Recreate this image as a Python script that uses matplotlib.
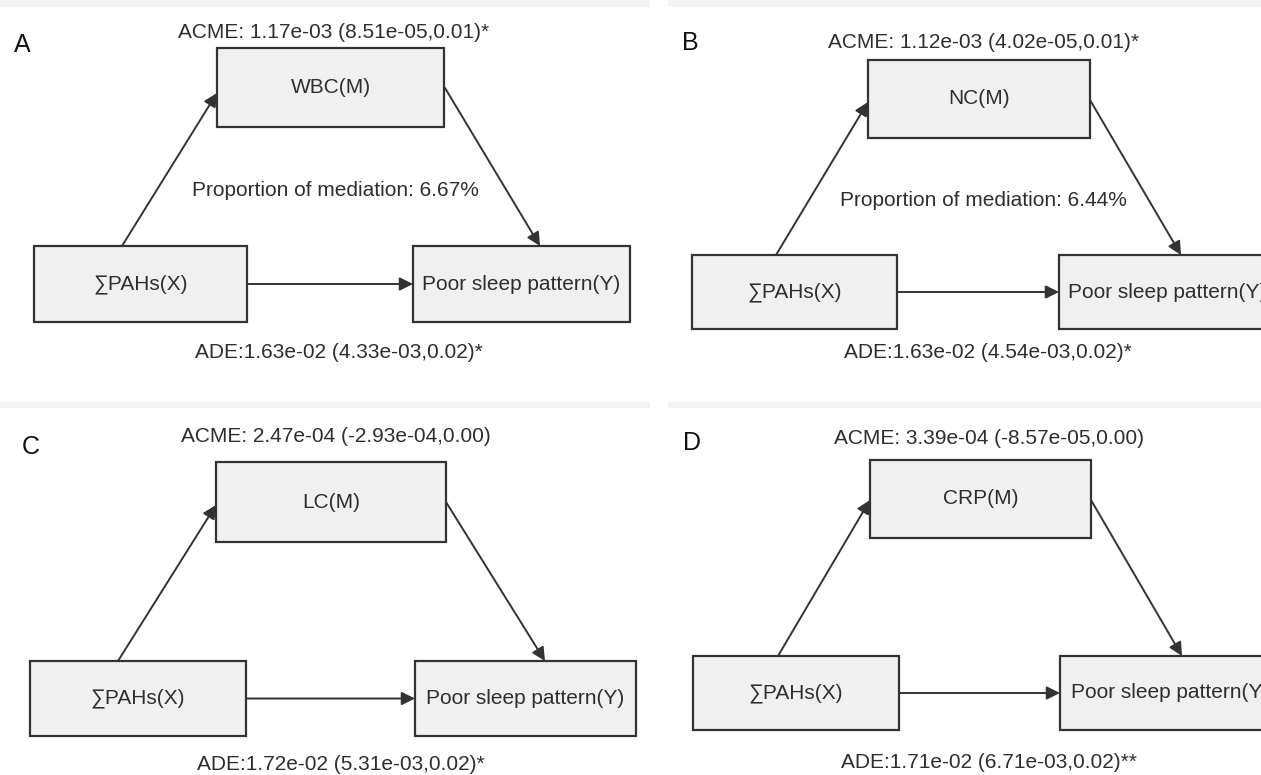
import matplotlib
matplotlib.use("Agg")
import matplotlib.pyplot as plt
from matplotlib.patches import Rectangle, FancyArrowPatch

# ---- data ----
panel_labels = ["A", "B", "C", "D"]
mediators = ["WBC(M)", "NC(M)", "LC(M)", "CRP(M)"]
exposure = "\u2211PAHs(X)"
outcome = "Poor sleep pattern(Y)"
acme_texts = [
    "ACME: 1.17e-03 (8.51e-05,0.01)*",
    "ACME: 1.12e-03 (4.02e-05,0.01)*",
    "ACME: 2.47e-04 (-2.93e-04,0.00)",
    "ACME: 3.39e-04 (-8.57e-05,0.00)",
]
ade_texts = [
    "ADE:1.63e-02 (4.33e-03,0.02)*",
    "ADE:1.63e-02 (4.54e-03,0.02)*",
    "ADE:1.72e-02 (5.31e-03,0.02)*",
    "ADE:1.71e-02 (6.71e-03,0.02)**",
]
proportions = ["Proportion of mediation: 6.67%", "Proportion of mediation: 6.44%", None, None]

# ---- layout (pixel coordinates, y downward) ----
layouts = [
    dict(label=(22, 45), acme=(334, 32), m=(217, 48, 444, 127), prop=(335, 190),
         x=(34, 246, 247, 322), y=(413, 246, 630, 322), ade=(339, 353),
         xm=((122, 246), (217, 93)), my=((445, 88), (540, 246))),
    dict(label=(690, 43), acme=(983, 42), m=(868, 60, 1090, 138), prop=(983, 200),
         x=(692, 255, 897, 329), y=(1059, 255, 1276, 329), ade=(988, 352),
         xm=((776, 255), (868, 102)), my=((1090, 100), (1181, 255))),
    dict(label=(31, 447), acme=(336, 437), m=(216, 462, 446, 542), prop=None,
         x=(30, 661, 246, 736), y=(415, 661, 636, 736), ade=(341, 765),
         xm=((118, 661), (216, 505)), my=((446, 502), (545, 661))),
    dict(label=(692, 443), acme=(989, 438), m=(870, 460, 1091, 538), prop=None,
         x=(693, 656, 899, 730), y=(1060, 656, 1280, 730), ade=(989, 763),
         xm=((778, 656), (870, 500)), my=((1091, 500), (1182, 656))),
]

W, H = 1261, 775
FONT = ["Liberation Sans", "DejaVu Sans"]
TXT = "#2e2e2e"
EDGE = "#333333"
FILL = "#f0f0f0"
FS = 15

fig = plt.figure(figsize=(W / 100, H / 100), dpi=100)
ax = fig.add_axes([0, 0, 1, 1])
ax.set_xlim(0, W)
ax.set_ylim(H, 0)
ax.axis("off")

# faint header stripes of the original panels
for (x0, x1, y0, y1) in [(0, 650, 0, 7), (668, W, 0, 7), (0, 650, 402, 408), (668, W, 402, 408)]:
    ax.add_patch(Rectangle((x0, y0), x1 - x0, y1 - y0, facecolor="#f4f4f4", edgecolor="none", zorder=0))


def box(b, text):
    x0, y0, x1, y1 = b
    ax.add_patch(Rectangle((x0, y0), x1 - x0, y1 - y0, facecolor=FILL, edgecolor=EDGE,
                           linewidth=1.6, zorder=2))
    ax.text((x0 + x1) / 2, (y0 + y1) / 2, text, ha="center", va="center", fontsize=FS,
            color=TXT, family=FONT, zorder=3, clip_on=True)


def arrow(p0, p1):
    ax.add_patch(FancyArrowPatch(p0, p1, arrowstyle="-|>", mutation_scale=20,
                                 color=EDGE, linewidth=1.4, shrinkA=0, shrinkB=0, zorder=4))


for i, L in enumerate(layouts):
    ax.text(*L["label"], panel_labels[i], ha="center", va="center", fontsize=18,
            color="#111111", family=FONT)
    ax.text(*L["acme"], acme_texts[i], ha="center", va="center", fontsize=FS, color=TXT, family=FONT)
    box(L["m"], mediators[i])
    box(L["x"], exposure)
    box(L["y"], outcome)
    if proportions[i]:
        ax.text(*L["prop"], proportions[i], ha="center", va="center", fontsize=FS, color=TXT, family=FONT)
    ax.text(*L["ade"], ade_texts[i], ha="center", va="center", fontsize=FS, color=TXT, family=FONT)
    arrow(*L["xm"])
    arrow(*L["my"])
    xb, yb = L["x"], L["y"]
    yc = (xb[1] + xb[3]) / 2
    arrow((xb[2], yc), (yb[0], yc))

fig.savefig("out.png", dpi=100, facecolor="white")
